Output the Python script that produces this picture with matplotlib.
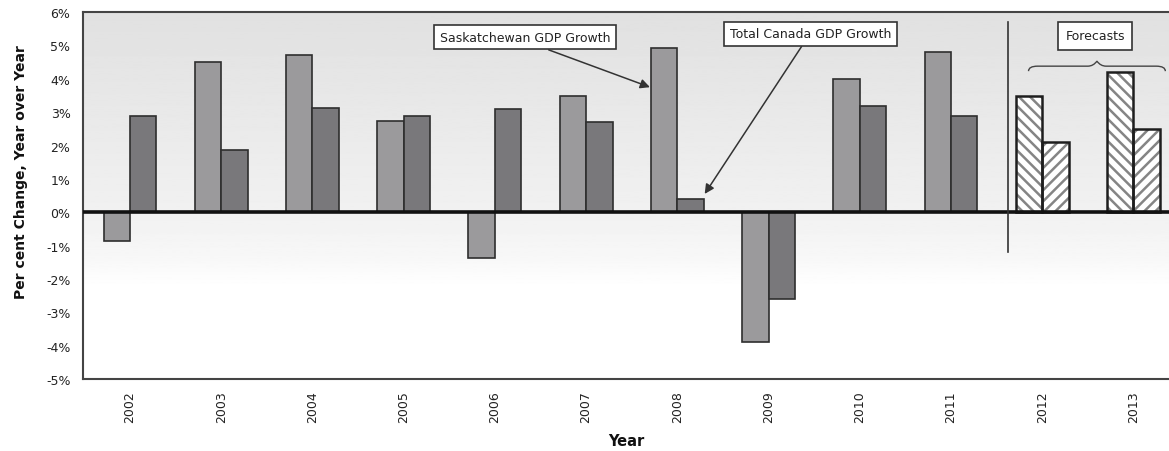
import numpy as np
import matplotlib
matplotlib.use('Agg')
from matplotlib import pyplot as plt
from matplotlib.path import Path
from matplotlib.patches import PathPatch

# Data
years = ['2002', '2003', '2004', '2005', '2006', '2007',
         '2008', '2009', '2010', '2011', '2012', '2013']
sask = [-0.85, 4.5, 4.7, 2.73, -1.38, 3.48, 4.92, -3.9, 3.99, 4.8, 3.48, 4.2]
canada = [2.9, 1.86, 3.12, 2.88, 3.09, 2.7, 0.39, -2.61, 3.18, 2.88, 2.1, 2.49]
n_actual = 10  # 2012 and 2013 are forecasts
yticks = [-5, -4, -3, -2, -1, 0, 1, 2, 3, 4, 5, 6]

plt.rcParams['font.family'] = 'DejaVu Sans'
plt.rcParams['hatch.linewidth'] = 1.8

fig = plt.figure(figsize=(11.69, 4.52), dpi=100)
ax = fig.add_axes([0.071, 0.159, 0.929, 0.812])

x = np.arange(len(years))
w = 0.29
ax.set_xlim(-0.515, 11.39)
ax.set_ylim(-5, 6)

# Gray-to-white background gradient
frac = np.linspace(0, 1, 300)
shade = np.interp(frac, [0, 0.25, 0.33, 0.45, 1.0], [1.0, 1.0, 0.97, 0.945, 0.88])
ax.imshow(shade[:, None], cmap='gray', vmin=0, vmax=1, origin='lower',
          extent=[0, 1, 0, 1], transform=ax.transAxes, aspect='auto', zorder=0)

# Actual bars
ax.bar(x[:n_actual] - w / 2, sask[:n_actual], w, color='#9b9a9c',
       edgecolor='#2e2e2e', lw=1.2, zorder=2)
ax.bar(x[:n_actual] + w / 2, canada[:n_actual], w, color='#79787b',
       edgecolor='#2e2e2e', lw=1.2, zorder=2)

# Forecast bars (hatched)
ax.bar(x[n_actual:] - w / 2, sask[n_actual:], w, color='white',
       edgecolor='#858585', hatch='\\\\\\', lw=0, zorder=2)
ax.bar(x[n_actual:] + w / 2, canada[n_actual:], w, color='white',
       edgecolor='#858585', hatch='///', lw=0, zorder=2)
ax.bar(x[n_actual:] - w / 2, sask[n_actual:], w, fill=False,
       edgecolor='#1e1e1e', lw=1.8, zorder=3)
ax.bar(x[n_actual:] + w / 2, canada[n_actual:], w, fill=False,
       edgecolor='#1e1e1e', lw=1.8, zorder=3)

ax.axhline(0, color='#111111', lw=2.6, zorder=4)

# Separator between actuals and forecasts
ax.plot([9.62, 9.62], [5.7, -1.2], color='#333333', lw=1.2, zorder=4)

box = dict(boxstyle='square,pad=0.45', fc='white', ec='#333333', lw=1.2)
arrow = dict(arrowstyle='-|>', color='#333333', lw=1.1, mutation_scale=14,
             shrinkA=0, shrinkB=0)
ax.annotate('Saskatchewan GDP Growth', xy=(5.70, 3.75), xytext=(4.33, 5.25),
            ha='center', va='center', fontsize=9, color='#222222', bbox=box,
            arrowprops=dict(arrow, relpos=(0.54, 0)), zorder=5)
ax.annotate('Total Canada GDP Growth', xy=(6.30, 0.55), xytext=(7.46, 5.35),
            ha='center', va='center', fontsize=9, color='#222222', bbox=box,
            arrowprops=dict(arrow, relpos=(0.47, 0)), zorder=5)
ax.text(10.58, 5.29, 'Forecasts', ha='center', va='center', fontsize=9,
        color='#222222', bbox=dict(box, boxstyle='square,pad=0.6'), zorder=5)

# Curly brace over the forecast years
bx0, bx1, bxm, by = 9.85, 11.35, 10.6, 4.38
verts = [(bx0, by - 0.15), (bx0, by), (bx0 + 0.1, by), (bx0 + 0.15, by),
         (bxm - 0.1, by), (bxm - 0.04, by), (bxm, by + 0.15),
         (bxm + 0.04, by), (bxm + 0.1, by),
         (bx1 - 0.15, by), (bx1 - 0.1, by), (bx1, by), (bx1, by - 0.15)]
codes = [Path.MOVETO, Path.CURVE3, Path.CURVE3, Path.LINETO,
         Path.LINETO, Path.CURVE3, Path.CURVE3, Path.CURVE3, Path.CURVE3,
         Path.LINETO, Path.LINETO, Path.CURVE3, Path.CURVE3]
ax.add_patch(PathPatch(Path(verts, codes), fill=False, ec='#444444', lw=1.0,
                       zorder=4))

ax.set_xticks(x)
ax.set_xticklabels(years, rotation=90, fontsize=9, color='#222222')
ax.set_yticks(yticks)
ax.set_yticklabels(['%d%%' % t for t in yticks], fontsize=9, color='#222222')
ax.tick_params(axis='both', length=0)
ax.tick_params(axis='y', pad=9)
ax.tick_params(axis='x', pad=8)

for side in ['left', 'bottom', 'top']:
    ax.spines[side].set_color('#444444')
    ax.spines[side].set_linewidth(1.5)
ax.spines['right'].set_visible(False)

ax.set_ylabel('Per cent Change, Year over Year', fontsize=10,
              fontweight='bold', color='#111111')
ax.yaxis.set_label_coords(-0.051, 0.567)
ax.set_xlabel('Year', fontsize=10.5, fontweight='bold', labelpad=8,
              color='#111111')

fig.savefig('out.png', dpi=100)
